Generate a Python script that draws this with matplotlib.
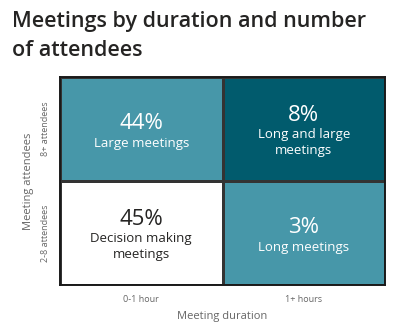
import numpy as np
import matplotlib.pyplot as plt
from matplotlib import rcParams
from matplotlib.colors import ListedColormap

rcParams['font.family'] = ['Open Sans', 'DejaVu Sans']

# data
durations = ["0-1 hour", "1+ hours"]
attendees = ["2-8 attendees", "8+ attendees"]  # bottom row first
shares = [[45, 3], [44, 8]]
names = [["Decision making\nmeetings", "Long meetings"],
         ["Large meetings", "Long and large\nmeetings"]]
cell_colors = [[0, 1], [1, 2]]  # index into palette
palette = ["#ffffff", "#4797a9", "#015b6d"]
text_colors = ["#252423", "#ffffff", "#ffffff"]

fig = plt.figure(figsize=(4, 3.28), dpi=100)
ax = fig.add_axes([0.15, 0.131, 0.8125, 0.634])

ax.pcolormesh(np.array(cell_colors), cmap=ListedColormap(palette), vmin=-0.5, vmax=2.5,
              edgecolors="#333333", linewidth=1.0)
for s in ax.spines.values():
    s.set_linewidth(1.4)
    s.set_color("#1a1a1a")

for r in range(2):
    for c in range(2):
        n = names[r][c].count("\n") + 1
        shift = (n - 1) * 6
        col = text_colors[cell_colors[r][c]]
        ax.annotate(f"{shares[r][c]}%", (c + 0.5, r + 0.5), xytext=(0, shift),
                    textcoords="offset points", ha="center", va="baseline",
                    fontsize=16, color=col)
        ax.annotate(names[r][c], (c + 0.5, r + 0.5), xytext=(0, shift - 5.5),
                    textcoords="offset points", ha="center", va="top",
                    fontsize=9.5, color=col, linespacing=1.25)

ax.set_xlim(0, 2)
ax.set_ylim(0, 2)
ax.set_xticks([0.5, 1.5], durations)
ax.set_yticks([0.5, 1.5], attendees, rotation=90, va="center")
ax.tick_params(length=0, labelsize=6.5, labelcolor="#666666", pad=7)
ax.set_xlabel("Meeting duration", fontsize=8, color="#666666", labelpad=5)
ax.set_ylabel("Meeting attendees", fontsize=8, color="#666666", labelpad=5)

fig.text(0.03, 0.965, "Meetings by duration and number\nof attendees", fontsize=15.5,
         weight="semibold", color="#252423", ha="left", va="top", linespacing=1.45)

fig.savefig("out.png", dpi=100)
